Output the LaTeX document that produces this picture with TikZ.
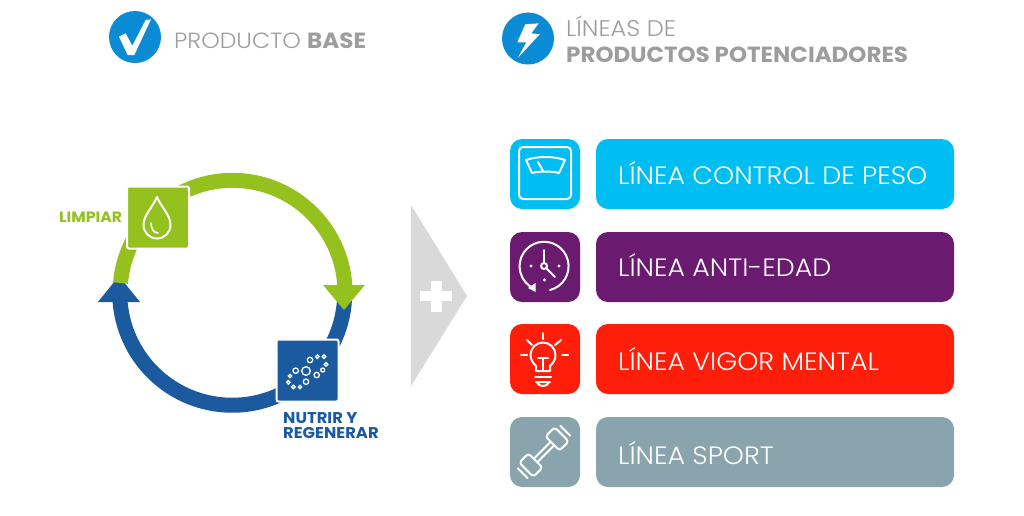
\documentclass[tikz,border=0pt]{standalone}
\usepackage{fontspec}
\setmainfont[FakeStretch=1.05]{Poppins}
\newfontfamily\lightfont[FakeStretch=1.07]{Poppins Light}
\usetikzlibrary{arrows.meta,positioning}
\definecolor{hdblue}{RGB}{10,139,211}
\definecolor{hdgray}{RGB}{157,157,157}
\definecolor{cyclegreen}{RGB}{149,193,31}
\definecolor{cycleblue}{RGB}{27,90,158}
\definecolor{linecyan}{RGB}{0,189,242}
\definecolor{linepurple}{RGB}{106,27,112}
\definecolor{linered}{RGB}{255,30,10}
\definecolor{linegray}{RGB}{138,164,173}
\definecolor{plusgray}{RGB}{217,217,217}
\tikzset{
  hdtext/.style={anchor=base west,inner sep=0pt,text=hdgray},
  hddot/.style={circle,fill=hdblue,minimum size=52pt,inner sep=0pt},
  rowicon/.style={fill=#1,rounded corners=12pt,minimum width=70pt,minimum height=70pt,inner sep=0pt},
  rowbar/.style={fill=#1,rounded corners=12pt,minimum width=358pt,minimum height=70pt,inner sep=0pt},
  rowtext/.style={anchor=base west,inner sep=0pt,text=white,font=\lightfont\fontsize{25.1}{25}\selectfont},
  stepbox/.style={fill=#1,draw=white,line width=2pt,rounded corners=2pt,minimum width=62pt,minimum height=62pt,inner sep=0pt},
  steplabel/.style={anchor=base west,inner sep=0pt,text=#1,align=left},
  iconline/.style={draw=white,line width=2pt,line cap=round,line join=round},
}
\begin{document}
\begin{tikzpicture}[x=1pt,y=-1pt]
  \useasboundingbox (0,0) rectangle (1024,515);
  % headers
  \node[hddot] (checkdot) at (135,37) {};
  \fill[white] (119,36.7) -- (125.7,33.3) -- (132.3,45.7) -- (145.7,20) -- (151,19.3) -- (134.3,55) -- (127.7,55) -- cycle;
  \node[hdtext] (basetxt) at (174,48) {\fontsize{22}{22}\selectfont{\lightfont PRODUCTO} \bfseries BASE};
  \node[hddot] (boltdot) at (528,38.5) {};
  \fill[white] (525.3,24.3) -- (538.7,23.3) -- (531.3,33.3) -- (539.7,34.3) -- (518,57.7) -- (526.3,42.3) -- (517.3,42.3) -- cycle;
  \node[hdtext] (lineastxt) at (566,36) {\lightfont\fontsize{22.6}{23}\selectfont LÍNEAS DE};
  \node[hdtext] (prodtxt) at (566,62) {\bfseries\fontsize{21.9}{23}\selectfont PRODUCTOS POTENCIADORES};
  % cycle
  \draw[cycleblue,line width=15pt] (344.5,300) arc (3.7:177:112.5);
  \fill[cycleblue] (119,276) -- (140,302) -- (98,302) -- cycle;
  \draw[cyclegreen,line width=15pt] (120.5,283) arc (185:359:112.5);
  \fill[cyclegreen] (344,310) -- (323,285) -- (365,285) -- cycle;
  \node[stepbox=cyclegreen] (limpiar) at (158,217.5) {};
  \node[stepbox=cycleblue] (nutrir) at (307.5,370.5) {};
  \node[steplabel=cyclegreen,font=\bfseries\fontsize{15}{14}\selectfont] (limpiartxt) at (59,222) {LIMPIAR};
  \node[steplabel=cycleblue,font=\bfseries\fontsize{15.6}{15}\selectfont] (nutrirtxt) at (283,438.5) {NUTRIR Y\\REGENERAR};
  % drop
  \draw[iconline] (157,197) .. controls (153,207) and (143.5,215) .. (143.5,225)
    arc (180:0:13.5) .. controls (170.5,215) and (161,207) .. (157,197) -- cycle;
  \draw[iconline,line width=1.6pt] (151,223) .. controls (151,229) and (154,233) .. (158,233);
  % cells
  \foreach \x/\y/\r in {306/371/4.3, 310/360/2.7, 317.3/356.7/1.8, 324/356.7/1.8, 326/364.3/1.8, 322.7/370/2,
    316.7/375/2.7, 306/381.7/2.7, 300/387/1.8, 293.3/387/1.8, 288.3/382.3/1.8, 290/376/1.8, 295.7/370.7/2.7}
    \draw[white,line width=1.3pt] (\x,\y) circle(\r);
  % plus
  \fill[plusgray] (411,205) -- (467,296) -- (411,386) -- cycle;
  \fill[white] (420,291) rectangle (452,301);
  \fill[white] (431,281) rectangle (442,312);
  % product lines
  \foreach \name/\y/\b/\col/\txt in {peso/174/184/linecyan/LÍNEA CONTROL DE PESO, edad/267/276/linepurple/LÍNEA ANTI-EDAD,
    vigor/359/370/linered/LÍNEA VIGOR MENTAL, sport/452/464/linegray/LÍNEA SPORT} {
    \node[rowicon=\col] (icon\name) at (545,\y) {};
    \node[rowbar=\col] (bar\name) at (775,\y) {};
    \node[rowtext] (txt\name) at (618,\b) {\txt};
  }
  % scale
  \draw[iconline,rounded corners=4pt] (519,147) rectangle (571,199);
  \draw[iconline] (526,160) .. controls (538,156) and (553,156) .. (565,160) -- (559,173)
    .. controls (552,171) and (539,171) .. (532,173) -- cycle;
  \draw[iconline] (538,162) -- (543,171);
  % clock
  \draw[iconline] (550,290) arc (76:-246:24.5);
  \fill[white] (528,288) -- (535.5,283) -- (535.5,292) -- cycle;
  \draw[iconline] (544,250) -- (544,263);
  \draw[iconline] (544,266) circle(3);
  \draw[iconline] (546,268) -- (555,277);
  \foreach \x/\y in {531/266, 559/266, 544.5/280}
    \fill[white] (\x,\y) circle(1.6);
  % bulb
  \draw[iconline] (536,371) -- (536,366) .. controls (533,363) and (530.5,360) .. (530.5,355)
    arc (180:360:12.5) .. controls (555.5,360) and (553,363) .. (550,366) -- (550,371) -- cycle;
  \draw[iconline] (538,358) -- (548,358) (543,358) -- (543,371);
  \draw[iconline] (535,377) -- (551,377);
  \draw[iconline] (536,382) -- (550,382) (537,382) .. controls (538,385) and (540,386) .. (543,386)
    .. controls (546,386) and (548,385) .. (549,382);
  \foreach \xa/\ya/\xb/\yb in {543/333/543/339, 521/355/527/355, 562/355/568/355, 527/340/532/345, 561/340/555/345}
    \draw[iconline] (\xa,\ya) -- (\xb,\yb);
  % dumbbell
  \begin{scope}[shift={(544,452)},rotate=45]
    \foreach \s in {-1,1} {
      \draw[iconline,rounded corners=3pt] (\s*12,-10) rectangle (\s*25,10);
      \draw[iconline] (\s*30,-7) -- (\s*30,7);
    }
    \draw[iconline] (-12,-2.5) -- (12,-2.5) (-12,2.5) -- (12,2.5);
  \end{scope}
\end{tikzpicture}
\end{document}
